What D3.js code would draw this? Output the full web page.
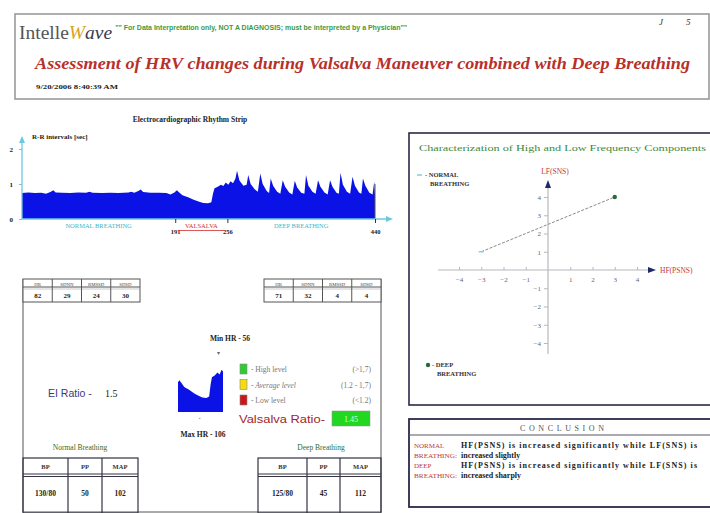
<!DOCTYPE html>
<html><head><meta charset="utf-8">
<script src="https://cdn.jsdelivr.net/npm/d3@7/dist/d3.min.js"></script>
<style>
body{margin:0;background:#fff}
svg{display:block;font-family:"Liberation Serif","Times New Roman",serif}
</style>
</head><body><svg id="c" width="710" height="513"></svg>
<script>
// ---------------- DATA ----------------
const rrBeat = [0,8,16,24,30,36,39,42,50,60,70,80,84,88,100,110,120,133,136,140,145,148,151,160,170,180,185,190,193,196,200,207,214,220,226,232,236,238,240,244,248,251,254,257,260,263,266,268,271,276,280,282,285,290,294,297,300,305,308,310,313,318,322,325,328,333,337,340,343,348,352,354,357,362,366,369,372,377,381,384,387,392,395,397,400,405,409,412,415,420,423,425,428,433,437,439,440];
const rrSec  = [0.74,0.76,0.74,0.75,0.72,0.78,0.82,0.76,0.75,0.74,0.76,0.75,0.78,0.75,0.74,0.75,0.74,0.76,0.78,0.75,0.80,0.84,0.77,0.75,0.75,0.74,0.70,0.76,0.82,0.76,0.68,0.62,0.55,0.50,0.46,0.45,0.48,0.72,0.88,0.92,0.98,0.94,1.04,0.98,1.08,1.02,1.15,1.38,1.10,0.95,0.98,1.26,1.00,0.85,0.78,1.30,1.00,0.80,0.74,1.16,0.95,0.78,0.72,1.11,0.92,0.76,0.70,1.09,0.90,0.75,0.72,1.26,0.95,0.78,0.72,1.11,0.92,0.76,0.70,1.11,0.92,0.75,0.72,1.32,0.98,0.78,0.72,1.21,0.95,0.76,0.72,1.16,0.95,0.75,0.70,1.07,0.70];
const rrTicks = [0,1,2];
const beatMarks = [191,256,440];
const phaseNames = ["NORMAL BREATHING","VALSALVA","DEEP BREATHING"];
const phaseStart = [0,191,256];
const phaseEnd = [191,256,440];

const statHead = ["HR","SDNN","RMSSD","SDSD"];
const statNormal = ["82","29","24","30"];
const statDeep = ["71","32","4","4"];

const bpHead = ["BP","PP","MAP"];
const bpNormal = ["130/80","50","102"];
const bpDeep = ["125/80","45","112"];

const levelNames = ["High level","Average level","Low level"];
const levelRanges = ["(>1,7)","(1.2 - 1,7)","(<1.2)"];
const eiRatio = "1.5";
const valsalvaRatio = "1.45";
const minHR = 56, maxHR = 106;

const freqNames = ["NORMAL BREATHING","DEEP BREATHING"];
const freqHF = [-3, 3];
const freqLF = [1, 4];
const freqTicks = [-4,-3,-2,-1,1,2,3,4];

const conclHead = [["NORMAL","BREATHING:"],["DEEP","BREATHING:"]];
const conclText = [["HF(PSNS) is increased significantly while LF(SNS) is","increased slightly"],
                   ["HF(PSNS) is increased significantly while LF(SNS) is","increased sharply"]];

// ---------------- DRAW ----------------
const svg = d3.select("#c");
const rr = rrBeat.map((b,i)=>({b, v: rrSec[i]}));

// Header
svg.append("rect").attr("x",15).attr("y",14).attr("width",694).attr("height",85)
  .attr("fill","none").attr("stroke","#9a9a9a").attr("stroke-width",1.6);
const logoParts = [["Intelle","#555","normal"],["W","#d9a520","italic"],["ave","#3a3a55","italic"]];
let lx = 19;
logoParts.forEach(p=>{
  const t = svg.append("text").attr("x",lx).attr("y",39).attr("font-size",19.5)
    .attr("fill",p[1]).attr("font-style",p[2]).text(p[0]);
  lx += t.node().getComputedTextLength();
});
svg.append("text").attr("x",Math.max(112,lx+3)).attr("y",30).attr("font-size",6.3).attr("font-weight","bold")
  .attr("font-family","Liberation Sans, Arial, sans-serif").attr("fill","#3d9a3d")
  .attr("textLength",292).attr("lengthAdjust","spacingAndGlyphs")
  .text("\"\" For Data Interpretation only, NOT A DIAGNOSIS; must be interpreted by a Physician\"\"");
svg.append("text").attr("x",659).attr("y",25).attr("font-size",9).attr("font-style","italic").attr("fill","#333").text("J");
svg.append("text").attr("x",686).attr("y",25).attr("font-size",9).attr("font-style","italic").attr("fill","#333").text("5");
svg.append("text").attr("x",35).attr("y",69).attr("font-size",16.5).attr("font-style","italic").attr("font-weight","bold")
  .attr("fill","#b8302a").attr("textLength",655).attr("lengthAdjust","spacingAndGlyphs")
  .text("Assessment of HRV changes during Valsalva Maneuver combined with Deep Breathing");
svg.append("text").attr("x",36).attr("y",89).attr("font-size",7).attr("font-weight","bold").attr("fill","#222")
  .attr("textLength",82).attr("lengthAdjust","spacingAndGlyphs").text("9/20/2006 8:40:39 AM");

// Rhythm strip
const x = d3.scaleLinear().domain([0,440]).range([22,375]);
const y = d3.scaleLinear().domain([0,2]).range([219,149]);
svg.append("text").attr("x",190).attr("y",122).attr("text-anchor","middle").attr("font-size",7.5).attr("font-weight","bold")
  .attr("fill","#222").text("Electrocardiographic Rhythm Strip");
svg.append("path").datum(rr)
  .attr("d", d3.area().x(d=>x(d.b)).y0(y(0)).y1(d=>y(d.v)))
  .attr("fill","#0a12e6");
svg.append("line").attr("x1",x(440)).attr("x2",x(440)).attr("y1",y(0)).attr("y2",y(1.0)).attr("stroke","#555").attr("stroke-width",1);
const axC = "#6cc8dc";
svg.append("line").attr("x1",22).attr("x2",22).attr("y1",219).attr("y2",141).attr("stroke",axC).attr("stroke-width",1.3);
svg.append("path").attr("d","M19,143 L22,136 L25,143 Z").attr("fill",axC);
svg.append("line").attr("x1",22).attr("x2",388).attr("y1",219).attr("y2",219).attr("stroke",axC).attr("stroke-width",1.3);
svg.append("path").attr("d","M386,216 L393,219 L386,222 Z").attr("fill",axC);
const ya = svg.append("g").attr("transform","translate(22,0)").call(d3.axisLeft(y).tickValues(rrTicks).tickSize(3).tickFormat(d3.format("d")));
ya.select(".domain").remove();
ya.selectAll("line").attr("stroke",axC);
ya.selectAll("text").attr("font-size",7).attr("font-weight","bold").attr("fill","#222").attr("font-family","Liberation Serif, serif").attr("dx",-3);
svg.append("text").attr("x",32).attr("y",139).attr("font-size",7).attr("font-weight","bold").attr("fill","#222").text("R-R intervals [sec]");
const xa = svg.append("g").attr("transform","translate(0,219)").call(d3.axisBottom(x).tickValues(beatMarks).tickSize(4));
xa.select(".domain").remove();
xa.selectAll("line").attr("stroke","#333");
xa.selectAll("text").attr("font-size",6.5).attr("font-weight","bold").attr("fill","#222").attr("font-family","Liberation Serif, serif").attr("dy",8);
phaseNames.forEach((n,i)=>{
  const cx = x((phaseStart[i]+phaseEnd[i])/2);
  svg.append("text").attr("x",cx).attr("y",228).attr("text-anchor","middle").attr("font-size",6.5)
    .attr("fill", i===1 ? "#d03030" : "#46b4c8").text(n);
});
svg.append("line").attr("x1",x(194)).attr("x2",x(253)).attr("y1",230.5).attr("y2",230.5).attr("stroke","#d03030").attr("stroke-width",0.8);

// Bottom-left panel
const pc = "#555";
svg.append("line").attr("x1",23).attr("x2",23).attr("y1",279).attr("y2",512).attr("stroke",pc);
svg.append("line").attr("x1",381).attr("x2",381).attr("y1",279).attr("y2",512).attr("stroke",pc);
svg.append("line").attr("x1",23).attr("x2",381).attr("y1",512).attr("y2",512).attr("stroke",pc);

function statTable(x0, vals){
  const cw = 29.25;
  const g = svg.append("g");
  g.append("rect").attr("x",x0).attr("y",279).attr("width",cw*4).attr("height",23).attr("fill","#fff").attr("stroke",pc);
  g.append("line").attr("x1",x0).attr("x2",x0+cw*4).attr("y1",287).attr("y2",287).attr("stroke",pc);
  g.append("line").attr("x1",x0).attr("x2",x0+cw*4).attr("y1",289).attr("y2",289).attr("stroke","#aaa").attr("stroke-width",0.6);
  statHead.forEach((h,i)=>{
    if(i>0) g.append("line").attr("x1",x0+cw*i).attr("x2",x0+cw*i).attr("y1",279).attr("y2",302).attr("stroke",pc);
    g.append("text").attr("x",x0+cw*i+cw/2).attr("y",285.5).attr("text-anchor","middle").attr("font-size",4.8).attr("fill","#444").text(h);
    g.append("text").attr("x",x0+cw*i+cw/2).attr("y",298).attr("text-anchor","middle").attr("font-size",7).attr("font-weight","bold").attr("fill","#222").text(vals[i]);
  });
}
statTable(23, statNormal);
statTable(264, statDeep);

svg.append("text").attr("x",48).attr("y",397).attr("font-size",10.5).attr("font-family","Liberation Sans, Arial, sans-serif")
  .attr("fill","#3a3a80").text("EI Ratio -");
svg.append("text").attr("x",105).attr("y",397).attr("font-size",10).attr("fill","#222").text(eiRatio);

svg.append("text").attr("x",230).attr("y",341).attr("text-anchor","middle").attr("font-size",7.5).attr("font-weight","bold").attr("fill","#222").text("Min HR - " + minHR);
svg.append("text").attr("x",218).attr("y",355).attr("text-anchor","middle").attr("font-size",6).attr("fill","#666").text("▾");
svg.append("text").attr("x",200).attr("y",420).attr("text-anchor","middle").attr("font-size",5).attr("fill","#999").text("▪");
svg.append("text").attr("x",203).attr("y",437).attr("text-anchor","middle").attr("font-size",7.5).attr("font-weight","bold").attr("fill","#222").text("Max HR - " + maxHR);

const mx = d3.scaleLinear().domain([191,256]).range([178,223]);
const my = d3.scaleLinear().domain([0.156,0.95]).range([412,374]);
const mini = rr.filter(d=>d.b>=190 && d.b<=257);
svg.append("clipPath").attr("id","mclip").append("rect").attr("x",178).attr("y",350).attr("width",45).attr("height",62);
svg.append("path").datum(mini).attr("clip-path","url(#mclip)")
  .attr("d", d3.area().x(d=>mx(d.b)).y0(412).y1(d=>my(d.v))).attr("fill","#0a12e6");

const levelColors = ["#2fcc2f","#f5dc10","#c81818"];
levelNames.forEach((n,i)=>{
  const yy = 364 + i*15.5;
  svg.append("rect").attr("x",240).attr("y",yy).attr("width",7).attr("height",10).attr("fill",levelColors[i]).attr("stroke","#888").attr("stroke-width",0.6);
  svg.append("text").attr("x",251).attr("y",yy+8).attr("font-size",7.5).attr("fill","#777").attr("font-style", i===1?"italic":"normal").text("- " + n);
  svg.append("text").attr("x",371).attr("y",yy+8).attr("text-anchor","end").attr("font-size",7.5).attr("fill","#777").text(levelRanges[i]);
});
svg.append("text").attr("x",239).attr("y",423).attr("font-size",11).attr("font-family","Liberation Sans, Arial, sans-serif")
  .attr("fill","#a0282a").attr("textLength",86).attr("lengthAdjust","spacingAndGlyphs").text("Valsalva Ratio-");
svg.append("rect").attr("x",332).attr("y",411).attr("width",38).attr("height",15).attr("fill","#1fd81f").attr("stroke","#999").attr("stroke-width",0.6);
svg.append("text").attr("x",351).attr("y",422).attr("text-anchor","middle").attr("font-size",8).attr("fill","#d8ffd8").text(valsalvaRatio);

svg.append("text").attr("x",80).attr("y",450).attr("text-anchor","middle").attr("font-size",7.5).attr("fill","#2e6e2e").text("Normal Breathing");
svg.append("text").attr("x",321).attr("y",450).attr("text-anchor","middle").attr("font-size",7.5).attr("fill","#2e6e2e").text("Deep Breathing");

function bpTable(x0, widths, vals){
  const tot = d3.sum(widths);
  const g = svg.append("g");
  g.append("rect").attr("x",x0).attr("y",458).attr("width",tot).attr("height",55).attr("fill","none").attr("stroke","#334").attr("stroke-width",1.2);
  g.append("line").attr("x1",x0).attr("x2",x0+tot).attr("y1",474).attr("y2",474).attr("stroke","#334");
  g.append("line").attr("x1",x0).attr("x2",x0+tot).attr("y1",476.5).attr("y2",476.5).attr("stroke","#334");
  let cx = x0;
  bpHead.forEach((h,i)=>{
    if(i>0) g.append("line").attr("x1",cx).attr("x2",cx).attr("y1",458).attr("y2",513).attr("stroke","#334").attr("stroke-width",1.2);
    g.append("text").attr("x",cx+widths[i]/2).attr("y",469).attr("text-anchor","middle").attr("font-size",6.5).attr("font-weight","bold").attr("fill","#333").text(h);
    g.append("text").attr("x",cx+widths[i]/2).attr("y",496).attr("text-anchor","middle").attr("font-size",7.5).attr("font-weight","bold").attr("fill","#222").text(vals[i]);
    cx += widths[i];
  });
}
bpTable(23,[45,34,36],bpNormal);
bpTable(258,[49,33,41],bpDeep);

// Frequency panel
svg.append("rect").attr("x",409).attr("y",133).attr("width",304).attr("height",272).attr("fill","none").attr("stroke","#2a2a4a").attr("stroke-width",1.6);
svg.append("text").attr("x",419).attr("y",151).attr("font-size",9.2).attr("fill","#3a8a3a")
  .attr("textLength",287).attr("lengthAdjust","spacingAndGlyphs")
  .text("Characterization of High and Low Frequency Components");
const hx = d3.scaleLinear().domain([-4,4]).range([459,637]);
const hy = d3.scaleLinear().domain([-4,4]).range([343,197]);
const ox = hx(0), oy = hy(0);
const gax = "#b8b8c0";
svg.append("line").attr("x1",438).attr("x2",650).attr("y1",oy).attr("y2",oy).attr("stroke",gax).attr("stroke-width",1.2);
svg.append("line").attr("x1",ox).attr("x2",ox).attr("y1",186).attr("y2",354).attr("stroke",gax).attr("stroke-width",1.2);
svg.append("path").attr("d",`M${ox-3},${188} L${ox},${180} L${ox+3},${188} Z`).attr("fill","#1a2a6a");
svg.append("path").attr("d",`M${648},${oy-3} L${656},${oy} L${648},${oy+3} Z`).attr("fill","#1a2a6a");
svg.append("text").attr("x",ox+7).attr("y",174).attr("text-anchor","middle").attr("font-size",7.5).attr("fill","#c03a3a").text("LF(SNS)");
svg.append("text").attr("x",660).attr("y",oy+3).attr("font-size",7.5).attr("fill","#c03a3a").text("HF(PSNS)");
const hxa = svg.append("g").attr("transform",`translate(0,${oy})`).call(d3.axisBottom(hx).tickValues(freqTicks).tickSize(0).tickFormat(d3.format("d")));
hxa.select(".domain").remove();
hxa.selectAll(".tick").append("line").attr("y1",-3).attr("y2",0).attr("stroke",gax);
hxa.selectAll("text").attr("font-size",7).attr("fill","#666").attr("font-family","Liberation Serif, serif").attr("dy",9);
const hya = svg.append("g").attr("transform",`translate(${ox},0)`).call(d3.axisLeft(hy).tickValues(freqTicks).tickSize(0).tickFormat(d3.format("d")));
hya.select(".domain").remove();
hya.selectAll(".tick").append("line").attr("x1",-4).attr("x2",0).attr("stroke",gax);
hya.selectAll("text").attr("font-size",7).attr("fill","#666").attr("font-family","Liberation Serif, serif").attr("dx",-4);
svg.append("line").attr("x1",hx(freqHF[0])).attr("y1",hy(freqLF[0])).attr("x2",hx(freqHF[1])).attr("y2",hy(freqLF[1]))
  .attr("stroke","#8a8a8a").attr("stroke-width",1).attr("stroke-dasharray","3,1.5");
svg.append("line").attr("x1",hx(freqHF[0])-2.5).attr("x2",hx(freqHF[0])+2.5).attr("y1",hy(freqLF[0])).attr("y2",hy(freqLF[0])).attr("stroke","#7fd0e0").attr("stroke-width",1.5);
svg.append("circle").attr("cx",hx(freqHF[1])).attr("cy",hy(freqLF[1])).attr("r",2.2).attr("fill","#2a6a3a");
svg.append("line").attr("x1",417).attr("x2",422).attr("y1",175).attr("y2",175).attr("stroke","#7fd0e0").attr("stroke-width",1.5);
svg.append("text").attr("x",425).attr("y",177).attr("font-size",6.5).attr("font-weight","bold").attr("fill","#333").text("- " + freqNames[0].split(" ")[0]);
svg.append("text").attr("x",430).attr("y",185.5).attr("font-size",6.5).attr("font-weight","bold").attr("fill","#333").text(freqNames[0].split(" ")[1]);
svg.append("circle").attr("cx",428).attr("cy",365).attr("r",2.2).attr("fill","#2a6a3a");
svg.append("text").attr("x",432).attr("y",367).attr("font-size",6.5).attr("font-weight","bold").attr("fill","#333").text("- " + freqNames[1].split(" ")[0]);
svg.append("text").attr("x",437).attr("y",375.5).attr("font-size",6.5).attr("font-weight","bold").attr("fill","#333").text(freqNames[1].split(" ")[1]);

// Conclusion
svg.append("rect").attr("x",409).attr("y",419).attr("width",304).attr("height",88).attr("fill","none").attr("stroke","#2a2a4a").attr("stroke-width",1.8);
svg.append("line").attr("x1",409).attr("x2",710).attr("y1",435).attr("y2",435).attr("stroke","#556").attr("stroke-width",1);
svg.append("text").attr("x",562).attr("y",431).attr("text-anchor","middle").attr("font-size",8).attr("fill","#555")
  .attr("textLength",84).attr("lengthAdjust","spacing").text("CONCLUSION");
conclHead.forEach((h,i)=>{
  h.forEach((t,j)=>{
    const yy = 448 + i*20 + j*10;
    svg.append("text").attr("x",414).attr("y",yy).attr("font-size",7).attr("fill","#b83a3a")
      .attr("textLength", j===1 ? 43 : null).attr("lengthAdjust","spacingAndGlyphs").text(t);
    const tt = svg.append("text").attr("x",461).attr("y",yy).attr("font-size",8).attr("font-weight","bold").attr("fill","#222").text(conclText[i][j]);
    if(j===0) tt.attr("textLength",236).attr("lengthAdjust","spacing");
  });
});
</script>
</body></html>
